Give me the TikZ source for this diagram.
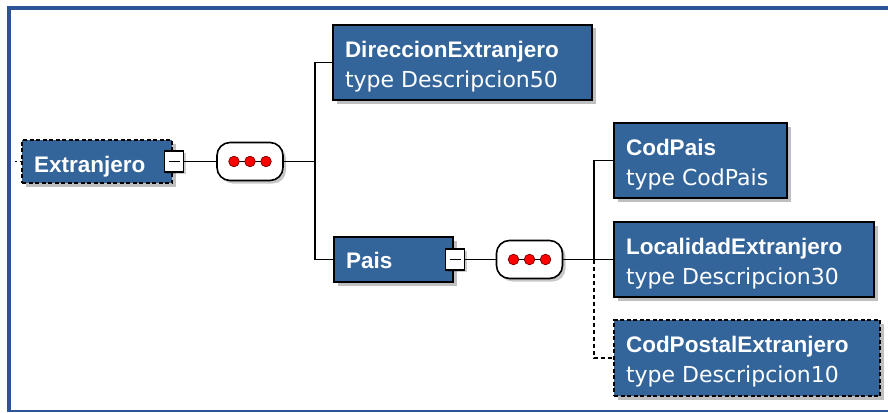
\documentclass[tikz,border=0pt]{standalone}
\usepackage{fontspec}
\setmainfont{DejaVu Sans}
\newfontfamily\libsans{Liberation Sans}
\usetikzlibrary{shadows,calc}
\definecolor{frameblue}{RGB}{44,83,151}
\definecolor{boxblue}{HTML}{33659A}
\newcommand\namefont{\libsans\bfseries\fontsize{22.5}{27}\selectfont\color{white}}
\newcommand\typefont{\fontsize{22}{27}\selectfont\color{white}}
\newcommand\twolines[4]{%
 \vbox to #2{\offinterlineskip
  \hbox to #1{\hskip12pt\vrule height32pt depth0pt width0pt\smash{\namefont #3}\hfil}%
  \hbox to #1{\hskip12pt\vrule height30pt depth0pt width0pt\smash{\typefont #4}\hfil}%
  \vfil}}
\newcommand\oneline[4]{%
 \vbox to #2{\offinterlineskip
  \hbox to #1{\hskip12pt\vrule height#3 depth0pt width0pt\smash{\namefont #4}\hfil}%
  \vfil}}
\tikzset{
 elem/.style={draw=black, line width=1.6pt, fill=boxblue, inner sep=0pt,
   drop shadow={shadow xshift=3.5pt, shadow yshift=-3.5pt, fill=black, opacity=0.25}},
 optelem/.style={elem, dash pattern=on 4pt off 2.5pt},
 minusbox/.style={draw=black, fill=white, line width=1.5pt, minimum width=19pt,
   minimum height=21pt, inner sep=0pt,
   drop shadow={shadow xshift=2pt, shadow yshift=-2pt, fill=black, opacity=0.2},
   path picture={\draw[line width=1.5pt] ($(path picture bounding box.center)+(-5.5,0)$) -- ++(11,0);}},
 seqbox/.style={draw=black, fill=white, line width=1.6pt, rounded corners=13pt,
   minimum width=66pt, minimum height=38pt, inner sep=0pt,
   drop shadow={shadow xshift=3pt, shadow yshift=-3pt, fill=black, opacity=0.22}},
 conn/.style={draw=black, line width=1.5pt},
 dot/.style={fill=red, draw=red!45!black, line width=0.7pt}
}
\newcommand\seqdots[1]{%
  \draw[line width=1.2pt] ($(#1.center)+(-16,0)$) -- ($(#1.center)+(16,0)$);
  \foreach \dx in {-16,0,16}{\path[dot] ($(#1.center)+(\dx,0)$) circle (5.3pt);}
}
\begin{document}
\begin{tikzpicture}[x=1pt,y=-1pt]
\useasboundingbox (0,0) rectangle (888,412);
% frame
\fill[frameblue] (7,6) rectangle (888,10);
\fill[frameblue] (7,6) rectangle (11,412);
\fill[frameblue] (7,410) rectangle (888,412);

% nodes
\node[optelem] (ext) at (97,161.5) {\oneline{150pt}{43pt}{32pt}{Extranjero}};
\node[minusbox] (m1) at (174,161.5) {};
\node[seqbox] (s1) at (250,161.5) {};
\seqdots{s1}

\node[elem] (dir) at (462.5,62.5) {\twolines{259pt}{75pt}{DireccionExtranjero}{type Descripcion50}};
\node[elem] (pais) at (393.5,259.5) {\oneline{119pt}{45pt}{31pt}{Pais}};
\node[minusbox] (m2) at (455,259.5) {};
\node[seqbox] (s2) at (529.5,259.5) {};
\seqdots{s2}

\node[elem] (codp) at (700.5,160.5) {\twolines{173pt}{75pt}{CodPais}{type CodPais}};
\node[elem] (loc) at (744,259.5) {\twolines{260pt}{75pt}{LocalidadExtranjero}{type Descripcion30}};
\node[optelem] (post) at (747,358) {\twolines{266pt}{76pt}{CodPostalExtranjero}{type Descripcion10}};

% connectors
\coordinate (in) at (15,161.5);
\draw[conn, dash pattern=on 1.5pt off 3pt] (in) -- (ext.west);
\draw[conn] (m1.east) -- (s1.west);
\coordinate (j1) at (315,161.5);
\draw[conn] (s1.east) -- (j1);
\draw[conn] (j1) |- (dir.west);
\draw[conn] (j1) |- (pais.west);
\draw[conn] (m2.east) -- (s2.west);
\coordinate (j2) at (594,259.5);
\draw[conn] (s2.east) -- (j2);
\draw[conn] (j2) |- (codp.west);
\draw[conn] (j2) -- (loc.west);
\draw[conn, dash pattern=on 4pt off 3pt] (j2) |- (post.west);
\end{tikzpicture}
\end{document}
